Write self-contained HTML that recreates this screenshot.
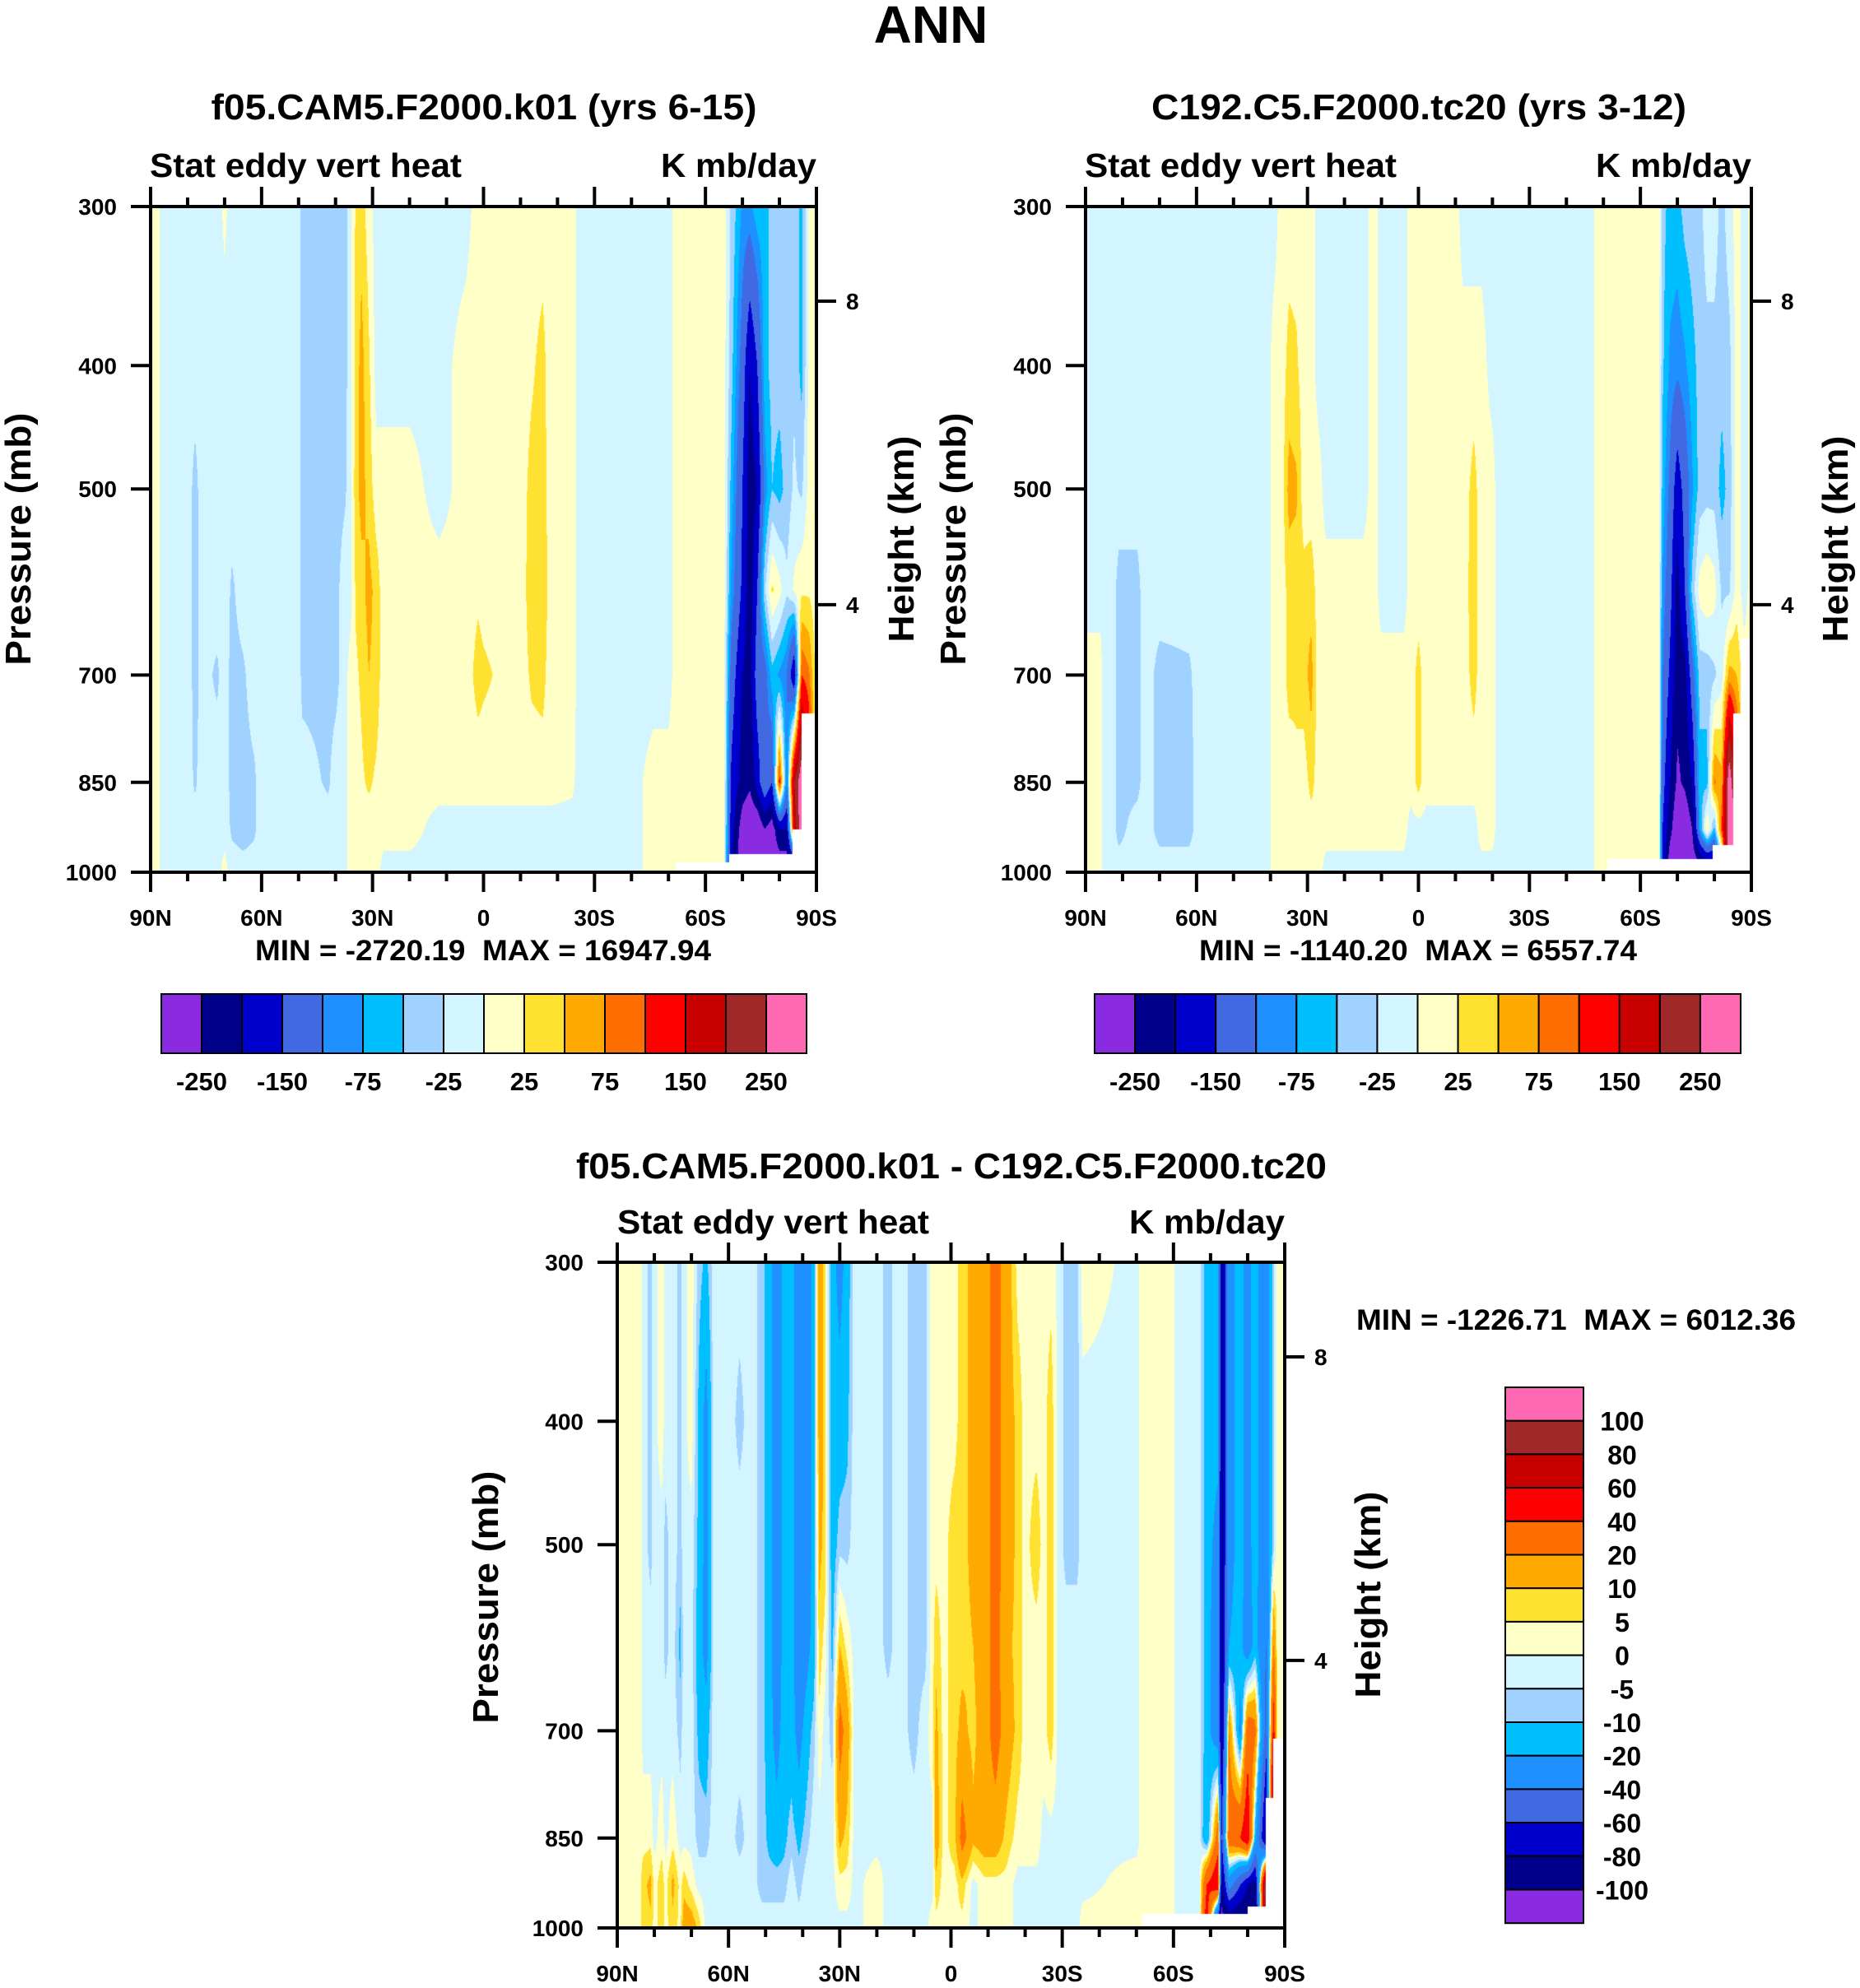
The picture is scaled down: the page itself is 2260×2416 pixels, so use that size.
<!DOCTYPE html>
<html><head><meta charset="utf-8">
<style>
html,body{margin:0;padding:0;background:#fff;}
#root{position:relative;width:2260px;height:2416px;overflow:hidden;background:#fff;}
canvas{position:absolute;}
svg{position:absolute;left:0;top:0;}
text{font-family:"Liberation Sans",Arial,sans-serif;font-weight:bold;fill:#000;white-space:pre;}
</style></head>
<body>
<div id="root">
<canvas id="c1" style="left:183px;top:251px" width="809" height="809"></canvas>
<canvas id="c2" style="left:1319px;top:251px" width="809" height="809"></canvas>
<canvas id="c3" style="left:750px;top:1534px" width="811" height="809"></canvas>
<svg id="ov" width="2260" height="2416"></svg>
</div>
<script>
// ---------- data ----------
const P = [300,400,500,600,700,850,925,1000];
const colors = ["#8a2be2","#00008b","#0000cd","#4169e1","#1e90ff","#00bfff","#a0d2ff","#d2f5ff","#ffffc8","#ffe132","#ffaa00","#ff6e00","#ff0000","#c80000","#a02828","#ff69b4"];
const levelsAbs = [-250,-200,-150,-100,-75,-50,-25,0,25,50,75,100,150,200,250];
const levelsDiff = [-100,-80,-60,-40,-20,-10,-5,0,5,10,20,40,60,80,100];
const absTickLabels = ["-250","-150","-75","-25","25","75","150","250"];
const diffTickLabels = ["100","80","60","40","20","10","5","0","-5","-10","-20","-40","-60","-80","-100"];
const latTicks = ["90N","60N","30N","0","30S","60S","90S"];
const presTicks = [300,400,500,700,850,1000];
const heightTicks = [8,4];

const lat1 = [90,88,87,80,78,76,72,70,68,65,62,60,50,49,42,40,37.5,36,34.5,33,31,29,27,20,12,5,1.5,0,-10,-13,-16,-18,-24,-26,-40,-46,-50,-52,-65,-67,-70,-72,-74,-76,-78,-80,-82,-84,-86,-88,-90];
const val1 = [
[10,10,10,10,10,10,10,10],[10,10,10,10,10,10,10,10],[-10,-10,-10,-10,-10,-10,-10,-10],[-10,-10,-10,-10,-10,-10,-10,-10],
[-10,-10,-35,-35,-35,-30,-10,-10],[-10,-10,-10,-15,-15,-10,-10,-10],[-10,-10,-10,-10,-30,-10,-10,-10],[5,-10,-10,-10,-10,-10,-10,10],
[-10,-10,-10,-30,-35,-35,-30,-10],[-10,-10,-10,-10,-30,-35,-40,-10],[-10,-10,-10,-10,-10,-30,-30,-10],[-10,-10,-10,-10,-10,-10,-10,-10],
[-10,-10,-10,-10,-10,-10,-10,-10],[-35,-35,-35,-35,-35,-10,-10,-10],[-35,-35,-35,-35,-35,-30,-10,-10],[-45,-40,-35,-35,-35,-10,-10,-10],
[-35,-35,-30,-10,-10,-10,-10,-10],[-10,-10,-10,-10,10,10,10,10],[30,35,40,30,20,10,10,10],[40,60,60,40,30,20,10,10],
[10,30,40,60,50,30,10,10],[-10,-10,10,40,40,20,10,10],[-10,-10,10,10,10,10,10,-10],[-10,-10,10,10,10,10,10,-10],
[-10,-10,-10,10,10,10,-10,-10],[-10,10,10,10,10,10,-10,-10],[10,10,10,20,35,10,-10,-10],[10,10,10,15,30,10,-10,-10],
[10,10,10,10,10,10,-10,-10],[10,20,35,40,30,10,-10,-10],[10,35,40,50,35,10,-10,-10],[10,10,10,10,10,10,-10,-10],
[10,10,10,10,10,5,-10,-10],[-10,-10,-10,-10,-10,-10,-10,-10],[-10,-10,-10,-10,-10,-10,-10,-10],[-10,-10,-10,-10,-10,10,10,10],
[-10,-10,-10,-10,-10,10,10,10],[10,10,10,10,10,10,10,10],[10,10,10,10,10,10,10,10],[-30,-40,-60,-80,-120,-160,-180,-200],
[-80,-120,-150,-160,-200,-220,-280,-300],[-80,-200,-230,-230,-220,-240,-300,-300],[-60,-150,-200,-150,-120,-180,-300,-300],
[-60,-60,-90,-30,-120,-100,-250,-300],[-40,-40,-50,30,-60,-150,-280,-300],[-30,-40,-60,10,-80,120,-200,-300],
[-30,-35,-40,-20,-100,-100,-200,-300],[-30,-30,-20,5,-200,200,160,-300],[-60,-60,-30,20,100,300,300,300],
[10,10,10,20,80,150,150,150],[10,10,10,10,10,10,10,10]];

const lat2 = [90,86,85,83,81,76,74,70,62,59,41,39,37,35,33,31,29,27,25,15,12,10,4,2,0,-2,-10,-12,-15,-17,-20,-21.5,-47,-48,-65,-66,-68,-70,-72,-74,-76,-78,-80,-82,-84,-86,-88,-90];
const val2 = [
[-10,-10,-10,-10,10,10,10,10],[-10,-10,-10,-10,10,10,10,10],[-10,-10,-10,-10,-10,-10,-10,-10],[-10,-10,-10,-10,-10,-10,-10,-10],
[-10,-10,-10,-35,-35,-35,-35,-10],[-10,-10,-10,-35,-35,-35,-10,-10],[-10,-10,-10,-10,-10,-10,-10,-10],[-10,-10,-10,-10,-35,-35,-35,-10],
[-10,-10,-10,-10,-30,-35,-35,-10],[-10,-10,-10,-10,-10,-10,-10,-10],[-10,-10,-10,-10,-10,-10,-10,-10],[-10,10,10,10,10,10,10,10],
[10,10,10,10,10,10,10,10],[10,35,60,35,35,10,10,10],[10,30,55,35,30,20,10,10],[10,10,10,35,40,10,10,10],
[10,10,10,40,60,35,10,10],[-10,-10,10,10,10,10,10,10],[-10,-10,-10,10,10,10,10,-10],[-10,-10,-10,10,10,10,10,-10],
[10,10,10,10,10,10,10,-10],[-10,-10,-10,-10,10,10,10,-10],[-10,-10,-10,-10,10,10,10,-10],[10,10,10,10,10,10,-10,-10],
[10,10,10,10,35,35,-10,-10],[10,10,10,10,10,10,-10,-10],[10,10,10,10,10,10,-10,-10],[-10,10,10,10,10,10,-10,-10],
[-10,10,35,40,35,10,-10,-10],[-10,10,10,10,10,10,10,-10],[-10,-10,10,10,10,10,10,-10],[-10,-10,-10,-10,-10,-10,-10,-10],
[-10,-10,-10,-10,-10,-10,-10,-10],[10,10,10,10,10,10,10,10],[10,10,10,10,10,10,10,10],
[-40,-45,-60,-80,-100,-130,-150,-160],[-60,-80,-110,-130,-160,-200,-230,-300],[-60,-90,-180,-220,-230,-260,-300,-300],
[-40,-80,-130,-150,-220,-240,-300,-300],[-35,-60,-80,-40,-120,-200,-250,-300],[-35,-40,-40,10,-40,-60,-80,-300],
[-10,-35,-35,20,-40,-60,30,-300],[-10,-35,-35,10,-30,80,-60,-250],[-35,-40,-60,-30,-10,60,100,-100],
[-10,-35,-40,-30,60,300,300,300],[10,10,10,10,50,150,300,300],[-10,-10,-10,-10,10,10,10,10],[10,10,10,10,10,10,10,10]];

const lat3 = [90,84,83,81,80,78,77,75,73,72,70,68,66,64,60,57,54,51,49,47,45,43,41,39,37,35.5,34,32,30,28,26,20,17,14,10,7,5,4,2,-1,-3,-6,-9,-12,-15,-18,-20,-23,-25,-27,-29,-31,-34,-35.5,-50,-52,-59,-61,-67,-69,-72,-73,-75,-78,-80,-82,-85,-87,-88,-90];
const val3 = [
[3,3,3,3,3,3,3,3],[3,3,3,3,3,3,3,3],[-2,-2,-2,-2,-2,3,8,8],[-7,-7,-7,-2,-2,3,12,8],[-2,-2,-2,-2,-2,-2,3,3],
[3,3,-2,-2,-2,3,8,8],[-2,-2,-7,-7,-2,-2,3,3],[-2,-2,-2,-2,-2,3,12,8],[-7,-7,-7,-12,-7,-2,3,3],[-2,-2,-2,-2,-2,-2,8,15],
[3,3,-2,-2,-2,-2,3,15],[-7,-12,-12,-15,-12,-7,-2,8],[-12,-25,-25,-25,-15,-7,-2,-2],[-2,-2,-2,-2,-2,-2,-2,-2],[-2,-2,-2,-2,-2,-2,-2,-2],
[-2,-7,-2,-2,-2,-7,-2,-2],[-2,-2,-2,-2,-2,-2,-2,-2],[-7,-7,-7,-7,-7,-7,-7,-2],[-15,-15,-15,-15,-15,-12,-7,-2],[-30,-30,-30,-30,-25,-15,-7,-2],
[-15,-15,-15,-15,-15,-12,-7,-2],[-15,-15,-15,-15,-15,-7,-2,-2],[-30,-30,-30,-30,-25,-12,-7,-2],[-30,-30,-30,-25,-15,-7,-2,-2],[-15,-15,-15,-15,-7,-2,-2,-2],
[15,15,12,8,3,-2,-2,-2],[8,8,8,3,-2,-2,-2,-2],[-15,-15,-15,-12,-7,-2,-2,-2],[-25,-15,-7,10,25,12,3,-2],[-15,-12,-7,3,15,8,3,-2],
[-2,-2,-2,-2,-2,-2,-2,-2],[-2,-2,-2,-2,-2,-2,3,3],[-7,-7,-7,-7,-2,-2,-2,-2],[-2,-2,-2,-2,-2,-2,-2,-2],[-7,-7,-7,-7,-7,-2,-2,-2],
[-7,-7,-7,-7,-2,-2,-2,-2],[3,3,3,3,3,-2,-2,3],[3,3,3,8,12,15,8,3],[3,3,3,3,3,3,3,3],[3,3,8,8,8,8,3,3],
[8,8,8,8,12,25,8,3],[12,12,12,10,8,12,-2,-2],[15,15,15,15,15,15,3,3],[25,25,25,25,25,15,3,3],[15,15,15,12,15,8,3,3],
[3,8,8,8,8,3,-2,-2],[3,3,3,3,3,3,-2,-2],[3,3,8,3,3,3,-2,-2],[3,3,3,3,3,-2,-2,-2],[3,8,8,8,8,-2,-2,-2],
[-2,-2,-2,-2,-2,-2,-2,-2],[-7,-7,-7,-2,-2,-2,-2,-2],[-7,-7,-7,-2,-2,-2,-2,-2],[3,-2,-2,-2,-2,-2,-2,3],[-2,-2,-2,-2,-2,-2,3,3],
[3,3,3,3,3,3,3,3],[3,3,3,3,3,3,3,3],[-2,-2,-2,-2,-2,-2,-2,-2],[-2,-2,-2,-2,-2,-2,-2,-2],[-15,-15,-15,-15,-15,-20,40,60],
[-15,-15,-25,-30,-30,30,60,-100],[-90,-90,-90,-90,-90,-60,-90,-110],[-25,-25,-25,-20,20,30,-30,-110],[-15,-15,-15,-15,-25,40,-60,-110],
[-25,-25,-25,-30,30,60,-80,-110],[-15,-15,-15,-15,25,-15,-90,-110],[-30,-30,-30,-40,-50,-90,110,110],[-7,-7,-7,20,50,110,110,110],
[3,3,3,3,3,3,3,3],[3,3,3,3,3,3,3,3]];

const mask1From = [-52,-66.5,-83.5,-86], mask1To = [-66.5,-83.5,-86,-90], mask1P = [983,968,925,750];
const mask2From = [-51,-79.6,-85,-87], mask2To = [-79.6,-85,-87,-90], mask2P = [976,952,750,655];
const mask3From = [-51.5,-80,-85,-87], mask3To = [-80,-85,-87,-90], mask3P = [975,962,790,710];

// ---------- rendering ----------
const LNP = P.map(p=>Math.log(p));
function hex2rgb(h){return [parseInt(h.substr(1,2),16),parseInt(h.substr(3,2),16),parseInt(h.substr(5,2),16)];}
const rgb = colors.map(hex2rgb);
function pFromFrac(f){return 300*Math.pow(1000/300,f);}
function fracFromP(p){return Math.log(p/300)/Math.log(1000/300);}
function sample(lats,vals,lat,p){
  let i=0; while(i<lats.length-2 && lat<lats[i+1]) i++;
  const t=(lats[i]-lat)/(lats[i]-lats[i+1]);
  const lp=Math.log(p); let k=0; while(k<P.length-2 && lp>LNP[k+1]) k++;
  const s=Math.min(1,Math.max(0,(lp-LNP[k])/(LNP[k+1]-LNP[k])));
  const a=vals[i][k]*(1-s)+vals[i][k+1]*s, b=vals[i+1][k]*(1-s)+vals[i+1][k+1]*s;
  return a*(1-t)+b*t;
}
function draw(id,lats,vals,levels,mF,mT,mP){
  const c=document.getElementById(id), ctx=c.getContext('2d');
  const W=c.width,H=c.height, img=ctx.createImageData(W,H), d=img.data;
  for(let x=0;x<W;x++){
    const lat=90-(x+0.5)/W*180;
    let ps=1e9; for(let m=0;m<mF.length;m++){ if(lat<=mF[m]&&lat>mT[m]) ps=mP[m]; }
    for(let y=0;y<H;y++){
      const p=pFromFrac((y+0.5)/H); const o=(y*W+x)*4;
      if(p>ps){d[o]=255;d[o+1]=255;d[o+2]=255;d[o+3]=255;continue;}
      const v=sample(lats,vals,lat,p); let ci=0; while(ci<levels.length && v>=levels[ci]) ci++;
      const col=rgb[ci]; d[o]=col[0];d[o+1]=col[1];d[o+2]=col[2];d[o+3]=255;
    }
  }
  ctx.putImageData(img,0,0);
}
draw('c1',lat1,val1,levelsAbs,mask1From,mask1To,mask1P);
draw('c2',lat2,val2,levelsAbs,mask2From,mask2To,mask2P);
draw('c3',lat3,val3,levelsDiff,mask3From,mask3To,mask3P);

// ---------- annotations ----------
const NS='http://www.w3.org/2000/svg', svg=document.getElementById('ov');
function el(tag,attrs,txt){const e=document.createElementNS(NS,tag);for(const k in attrs)e.setAttribute(k,attrs[k]);if(txt!==undefined)e.textContent=txt;svg.appendChild(e);return e;}
function txt(x,y,s,size,anchor,name,len,rot){
  const a={x:x,y:y,'font-size':size,'text-anchor':anchor||'middle'};
  if(len){a.textLength=len;a.lengthAdjust='spacingAndGlyphs';}
  if(rot){a.transform='rotate(-90 '+x+' '+y+')';}
  const e=el('text',a,s);
  
  
  return e;
}
function stdP(zkm){return 1013.25*Math.pow(1-2.25577e-5*zkm*1000,5.25588);}

function panel(x0,x1,y0,y1,pre){
  const W=x1-x0,H=y1-y0;
  const fr=el('rect',{x:x0,y:y0,width:W,height:H,fill:'none',stroke:'#000','stroke-width':4});
  
  
  for(let lat=90;lat>=-90;lat-=10){
    const x=x0+(90-lat)/180*W, major=(lat%30===0), L=major?24:11;
    const t1=el('line',{x1:x,x2:x,y1:y0,y2:y0-L,stroke:'#000','stroke-width':4});
    
    
    const t2=el('line',{x1:x,x2:x,y1:y1,y2:y1+L,stroke:'#000','stroke-width':4});
    
    
  }
  latTicks.forEach((s,i)=>{ txt(x0+i*W/6,y1+65,s,28,'middle',pre+'-x-tick-label'); });
  presTicks.forEach(p=>{
    const y=y0+fracFromP(p)*H;
    const t=el('line',{x1:x0,x2:x0-24,y1:y,y2:y,stroke:'#000','stroke-width':4});
    
    
    txt(x0-41,y+10,String(p),28,'end',pre+'-y-tick-label');
  });
  heightTicks.forEach(z=>{
    const y=y0+fracFromP(stdP(z))*H;
    const t=el('line',{x1:x1,x2:x1+24,y1:y,y2:y,stroke:'#000','stroke-width':4});
    
    
    txt(x1+36,y+10,String(z),28,'start',pre+'-height-tick-label');
  });
}
panel(183,992,251,1060,'model');
panel(1319,2128,251,1060,'control');
panel(750,1561,1534,2343,'diff');

// titles
txt(1131,52,'ANN',64,'middle','main-title');
txt(588,145,'f05.CAM5.F2000.k01 (yrs 6-15)',44,'middle','model-title',663);
txt(1724,145,'C192.C5.F2000.tc20 (yrs 3-12)',44,'middle','control-title',650);
txt(182,215,'Stat eddy vert heat',41,'start','model-left-subtitle',379);
txt(992,215,'K mb/day',41,'end','model-right-subtitle',189);
txt(1318,215,'Stat eddy vert heat',41,'start','control-left-subtitle',379);
txt(2128,215,'K mb/day',41,'end','control-right-subtitle',189);
txt(1156,1432,'f05.CAM5.F2000.k01 - C192.C5.F2000.tc20',44,'middle','diff-title',912);
txt(750,1499,'Stat eddy vert heat',41,'start','diff-left-subtitle',379);
txt(1561,1499,'K mb/day',41,'end','diff-right-subtitle',189);
// axis titles
txt(37,655,'Pressure (mb)',44,'middle','model-y-axis-title',307,true);
txt(1110,655,'Height (km)',44,'middle','model-height-axis-title',251,true);
txt(1173,655,'Pressure (mb)',44,'middle','control-y-axis-title',307,true);
txt(2245,655,'Height (km)',44,'middle','control-height-axis-title',251,true);
txt(605,1941,'Pressure (mb)',44,'middle','diff-y-axis-title',307,true);
txt(1677,1938,'Height (km)',44,'middle','diff-height-axis-title',251,true);
// min / max
txt(587,1167,'MIN = -2720.19  MAX = 16947.94',35,'middle','model-min-max',554);
txt(1723,1167,'MIN = -1140.20  MAX = 6557.74',35,'middle','control-min-max',532);
txt(1915,1616,'MIN = -1226.71  MAX = 6012.36',35,'middle','diff-min-max',534);

// colorbars
function hbar(x0,x1,y0,y1,pre){
  const w=(x1-x0)/colors.length;
  colors.forEach((c,i)=>{
    const r=el('rect',{x:x0+i*w,y:y0,width:w,height:y1-y0,fill:c,stroke:'#000','stroke-width':2});
    
    
  });
  absTickLabels.forEach((s,i)=>{ txt(x0+(2*i+1)*w,y1+45,s,31,'middle',pre+'-colorbar-label'); });
}
hbar(196,980,1208,1280,'model');
hbar(1330,2115,1208,1280,'control');
(function(){
  const x0=1829,x1=1924,y0=1686,h=40.7;
  for(let i=0;i<colors.length;i++){
    const r=el('rect',{x:x0,y:y0+i*h,width:x1-x0,height:h,fill:colors[colors.length-1-i],stroke:'#000','stroke-width':2});
    
    
  }
  diffTickLabels.forEach((s,i)=>{ txt(1971,y0+(i+1)*h+12,s,32,'middle','diff-colorbar-label'); });
})();
</script>
</body></html>
